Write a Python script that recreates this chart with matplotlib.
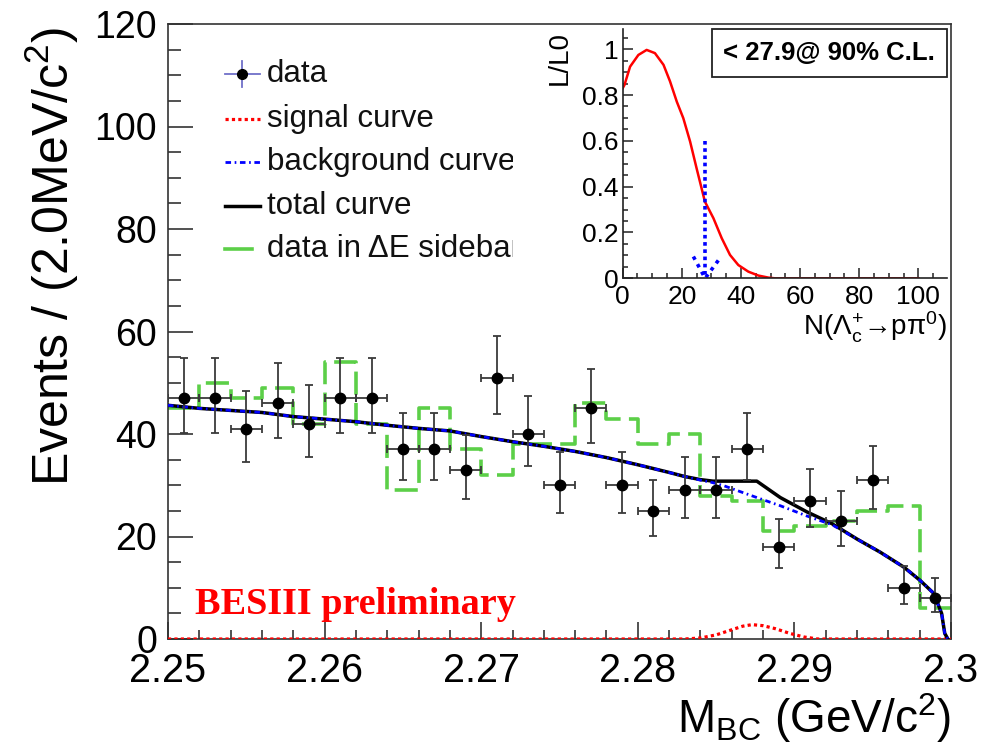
import numpy as np
import matplotlib
matplotlib.use('Agg')
import matplotlib.pyplot as plt
from matplotlib.ticker import MultipleLocator
from matplotlib.transforms import Bbox

plt.rcParams['font.family'] = ['Liberation Sans', 'DejaVu Sans']
plt.rcParams['mathtext.fontset'] = 'custom'
plt.rcParams['mathtext.rm'] = 'Liberation Sans'
plt.rcParams['mathtext.it'] = 'Liberation Sans:italic'
plt.rcParams['mathtext.bf'] = 'Liberation Sans:bold'

# M_BC binning: 25 bins of 2 MeV between 2.25 and 2.30 GeV
bin_lo = 2.25
bin_w = 0.002
n_bins = 25

# events per bin (data)
counts = [47, 47, 41, 46, 42, 47, 47, 37, 37, 33, 51, 40, 30,
          45, 30, 25, 29, 29, 37, 18, 27, 23, 31, 10, 8]

# Delta E sideband histogram
sideband = [45, 50, 47, 49, 42, 54, 42, 29, 45, 37, 32, 38, 38,
            46, 43, 38, 40, 28, 27, 21, 22, 23, 25, 26, 6]

# fitted curves
curve_x = [2.250, 2.252, 2.254, 2.256, 2.258, 2.260, 2.262, 2.264, 2.266,
           2.268, 2.270, 2.272, 2.274, 2.276, 2.278, 2.280, 2.282, 2.283,
           2.284, 2.2848, 2.2855, 2.2865, 2.2876, 2.2891, 2.2908, 2.2924,
           2.2940, 2.2955, 2.2970, 2.2980, 2.2989, 2.2994, 2.2996, 2.2998]
bkg_curve = [45.6, 45.0, 44.6, 44.2, 43.4, 42.9, 42.4, 41.7, 41.1,
             40.6, 39.5, 38.5, 37.6, 36.6, 35.4, 34.0, 32.5, 31.7,
             31.0, 30.5, 29.9, 28.8, 27.6, 26.0, 24.0, 22.3,
             19.5, 16.9, 14.0, 11.5, 8.9, 5.0, 1.1, 0.0]
total_curve = [45.6, 45.0, 44.6, 44.2, 43.4, 42.9, 42.4, 41.7, 41.1,
               40.6, 39.5, 38.5, 37.6, 36.6, 35.4, 34.0, 32.5, 31.7,
               31.1, 30.8, 30.8, 30.8, 30.8, 27.6, 24.8, 22.5,
               19.5, 16.9, 14.0, 11.5, 8.9, 5.0, 1.1, 0.0]
sig_x = [2.250, 2.2830, 2.2840, 2.2850, 2.2860, 2.2867, 2.2873, 2.2880,
         2.2888, 2.2897, 2.2906, 2.2915, 2.300]
sig_curve = [0.0, 0.0, 0.2, 0.8, 1.8, 2.5, 2.8, 2.6, 2.0, 1.1, 0.4, 0.0, 0.0]

# likelihood scan for the upper limit
scan_n = [0.0, 0.6, 2.5, 5.3, 8.1, 10.9, 13.8, 16.0, 18.3, 20.5, 22.8, 25.0,
          27.8, 30.7, 33.5, 36.3, 39.1, 42.5, 45.9, 49.3, 51.5, 65.0, 100.0]
scan_l = [0.83, 0.844, 0.924, 0.975, 0.997, 0.983, 0.932, 0.86, 0.771, 0.699,
          0.597, 0.48, 0.335, 0.262, 0.175, 0.102, 0.058, 0.029, 0.012,
          0.003, 0.0, 0.0, 0.0]
upper_limit = 27.9

edges = bin_lo + bin_w * np.arange(n_bins + 1)
centres = edges[:-1] + bin_w / 2
counts = np.array(counts, dtype=float)
# asymmetric Poisson errors
err_lo = np.sqrt(counts - 0.25)
err_hi = np.sqrt(counts + 0.75) + 1

W, H = 983, 750
fig = plt.figure(figsize=(W / 100, H / 100), dpi=100)
ax = fig.add_axes([168 / W, 1 - 639 / H, (951 - 168) / W, (639 - 24) / H])

green = '#5ccf48'
ax.step(edges, np.append(sideband, sideband[-1]), where='post',
        color=green, lw=2.6, linestyle=(0, (6.4, 2.3)), zorder=2)
ax.plot(sig_x, sig_curve, color='red', lw=2.3, linestyle=(0, (1, 1)), zorder=3)
ax.plot(curve_x, total_curve, color='black', lw=2.5, zorder=3)
ax.plot(curve_x, bkg_curve, color='blue', lw=2.0,
        linestyle=(0, (2, 1.3, 0.6, 1.3)), zorder=4)
ax.errorbar(centres, counts, yerr=[err_lo, err_hi], xerr=bin_w / 2, fmt='o',
            ms=7.5, mfc='black', mec='black', ecolor='#3a3a3a', elinewidth=1.3,
            capsize=3, capthick=1.3, zorder=5)

ax.set_xlim(2.25, 2.30)
ax.set_ylim(0, 120)
ax.xaxis.set_minor_locator(MultipleLocator(0.002))
ax.yaxis.set_major_locator(MultipleLocator(20))
ax.yaxis.set_minor_locator(MultipleLocator(5))
ax.set_xticks([2.25, 2.26, 2.27, 2.28, 2.29, 2.30])
ax.set_xticklabels(['2.25', '2.26', '2.27', '2.28', '2.29', '2.3'])
ax.tick_params(axis='both', which='both', direction='in', top=False, right=False,
               color='#333333', width=1.2, labelsize=27)
ax.tick_params(axis='x', which='major', labelsize=28.5)
ax.tick_params(axis='y', which='major', length=18, pad=8)
ax.tick_params(axis='y', which='minor', length=9)
ax.tick_params(axis='x', which='major', length=12.5, pad=9)
ax.tick_params(axis='x', which='minor', length=6.5)
for s in ax.spines.values():
    s.set_color('#333333')
    s.set_linewidth(1.2)

fig.text(52 / W, 1 - 27 / H, 'Events / (2.0MeV/c$^{2}$)', rotation=90,
         ha='center', va='top', fontsize=36)
fig.text(951 / W, 1 - 733 / H, 'M$_{\\mathrm{BC}}$ (GeV/c$^{2}$)',
         ha='right', va='baseline', fontsize=33)

fig.text(195 / W, 1 - 614 / H, 'BESIII preliminary', color='red',
         family='Liberation Serif', fontweight='bold', fontsize=27.5,
         va='baseline', ha='left')

# legend drawn by hand so the last entry can be cut at the pad edge
def px(x, y):
    return ((x - 168) / 783, (639 - y) / 615)

leg_rows = [74, 119, 162, 206, 249]
leg_text = ['data', 'signal curve', 'background curve', 'total curve',
            'data in \u0394E sidebar']
clip = Bbox.from_extents(0, 0, 513, H)
for y, t in zip(leg_rows, leg_text):
    xt, yt = px(267, y)
    txt = ax.text(xt, yt, t, transform=ax.transAxes, fontsize=22.5,
                  va='center', ha='left', color='#111111')
    txt.set_clip_box(clip)
    txt.set_clip_on(True)

x0, y0 = px(225, leg_rows[0])
x1, _ = px(260, leg_rows[0])
xm, ya = px(242, leg_rows[0] - 13)
_, yb = px(242, leg_rows[0] + 13)
ax.plot([x0, x1], [y0, y0], transform=ax.transAxes, color='#7070c8', lw=1.3)
ax.plot([xm, xm], [ya, yb], transform=ax.transAxes, color='#7070c8', lw=1.3)
ax.plot([xm], [y0], 'o', transform=ax.transAxes, color='black', ms=7)
legend_styles = [
    dict(color='red', lw=2.3, linestyle=(0, (1, 1))),
    dict(color='blue', lw=2.0, linestyle=(0, (2, 1.3, 0.6, 1.3))),
    dict(color='black', lw=2.5),
    dict(color=green, lw=2.6),
]
for y, st, xe in zip(leg_rows[1:], legend_styles, [260, 260, 260, 252]):
    xa, yy = px(225, y)
    xb, _ = px(xe, y)
    ax.plot([xa, xb], [yy, yy], transform=ax.transAxes, **st)

# inset: likelihood vs signal yield
ins = fig.add_axes([622.7 / W, 1 - 278.3 / H, (947 - 622.7) / W, (278.3 - 29.3) / H])
ins.plot(scan_n, scan_l, color='red', lw=1.8)
ins.plot([upper_limit, upper_limit], [0.6, 0.0], color='blue', lw=2.6,
         linestyle=(0, (1, 1)))
ins.plot([upper_limit - 4.0, upper_limit, upper_limit + 5.4], [0.095, 0.0, 0.095],
         color='blue', lw=2.6, linestyle=(0, (1, 1.4)))
ins.set_xlim(0, 109.7)
ins.set_ylim(0, 1.087)
ins.xaxis.set_major_locator(MultipleLocator(20))
ins.xaxis.set_minor_locator(MultipleLocator(5))
ins.yaxis.set_minor_locator(MultipleLocator(0.05))
ins.set_yticks([0, 0.2, 0.4, 0.6, 0.8, 1.0])
ins.set_yticklabels(['0', '0.2', '0.4', '0.6', '0.8', '1'])
ins.tick_params(axis='both', which='both', direction='in', top=False, right=False,
                color='#222222', width=1.1, labelsize=19)
ins.tick_params(axis='both', which='major', length=7, pad=3)
ins.tick_params(axis='both', which='minor', length=3.5)
ins.tick_params(axis='x', which='major', pad=5)
ins.spines['top'].set_visible(False)
ins.spines['right'].set_visible(False)
for s in ('left', 'bottom'):
    ins.spines[s].set_color('#222222')
    ins.spines[s].set_linewidth(1.2)

fig.text(560 / W, 1 - 31 / H, 'L/L0', rotation=90, ha='center', va='top',
         fontsize=20)
fig.text(947 / W, 1 - 336 / H,
         'N($\\mathrm{\\Lambda_{c}^{+}}$\u2192p$\\mathrm{\\pi^{0}}$)',
         ha='right', va='baseline', fontsize=20)
fig.text(829 / W, 1 - 53 / H, '< 27.9@ 90% C.L.', ha='center', va='center',
         fontsize=18.5, fontweight='bold',
         bbox=dict(boxstyle='square,pad=0.45', fc='white', ec='#222222', lw=1.3))

fig.savefig('out.png', dpi=100)
